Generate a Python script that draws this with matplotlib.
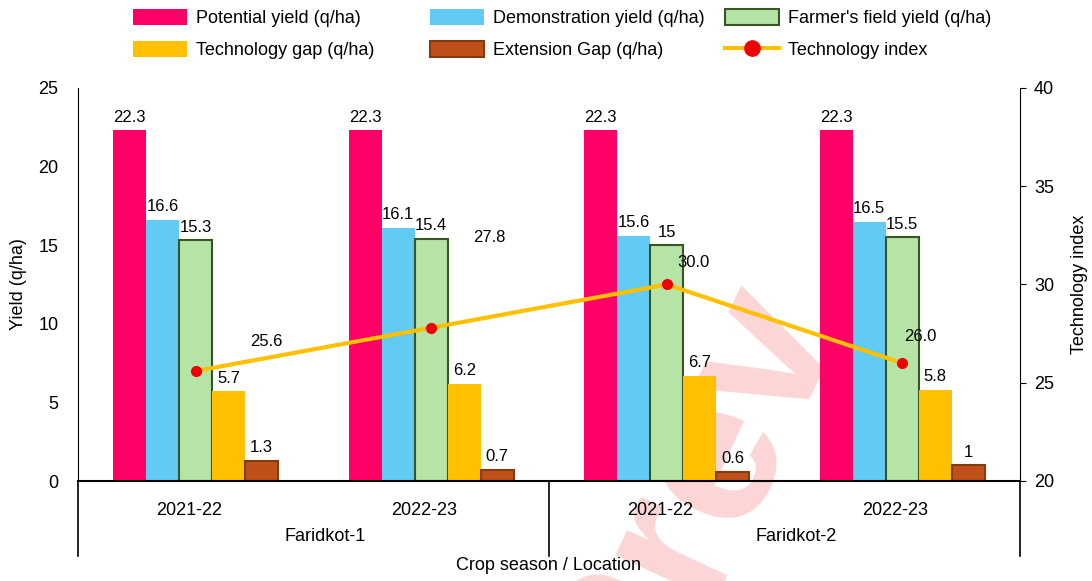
import matplotlib
matplotlib.use("Agg")
import numpy as np
import matplotlib.pyplot as plt
from matplotlib.patches import Patch
from matplotlib.lines import Line2D

plt.rcParams["font.family"] = ["Liberation Sans", "DejaVu Sans"]
plt.rcParams["font.size"] = 13

# data
seasons = ["2021-22", "2022-23", "2021-22", "2022-23"]
locations = ["Faridkot-1", "Faridkot-2"]
potential = [22.3, 22.3, 22.3, 22.3]
demonstration = [16.6, 16.1, 15.6, 16.5]
farmers = [15.3, 15.4, 15, 15.5]
tech_gap = [5.7, 6.2, 6.7, 5.8]
ext_gap = [1.3, 0.7, 0.6, 1]
tech_index = [25.6, 27.8, 30.0, 26.0]
# offsets (points) of technology index labels
ti_offsets = [(51, 21), (42, 65), (19, 16), (13, 19)]

series = [
    ("Potential yield (q/ha)", potential, "#ff0066", "#ff0066", 0),
    ("Demonstration yield (q/ha)", demonstration, "#61cbf3", "#61cbf3", 0),
    ("Farmer's field yield (q/ha)", farmers, "#b5e4a6", "#375623", 1.5),
    ("Technology gap (q/ha)", tech_gap, "#ffc000", "#ffc000", 0),
    ("Extension Gap (q/ha)", ext_gap, "#c0501a", "#843c0c", 1.5),
]

W, H = 1092, 581
fig = plt.figure(figsize=(W / 100, H / 100), dpi=100)
ax = fig.add_axes([78 / W, 1 - 481 / H, (1020 - 78) / W, (481 - 88) / H])
ax2 = ax.twinx()
ax.patch.set_alpha(0)
ax2.patch.set_alpha(0)

x = np.arange(len(seasons))
bw = 0.14
for i, (name, vals, fc, ec, lw) in enumerate(series):
    pos = x + (i - 2) * bw
    ax.bar(pos, vals, bw, color=fc, edgecolor=ec, linewidth=lw, zorder=2)
    for px, v in zip(pos, vals):
        ax.annotate(str(v), (px, v), xytext=(0, 4), textcoords="offset points",
                    ha="center", va="bottom", fontsize=12)

ax.set_xlim(-0.5, 3.5)
ax.set_ylim(0, 25)
ax.set_yticks(range(0, 26, 5))
ax.tick_params(axis="y", length=0, pad=14)
ax.set_xticks([])
ax.spines["top"].set_visible(False)
ax.spines["right"].set_visible(False)
ax.spines["bottom"].set_linewidth(1.5)
ax.set_ylabel("Yield (q/ha)", labelpad=8)

ax2.plot(x, tech_index, color="#ffc000", lw=3, marker="o", markersize=7,
         markerfacecolor="#ee0000", markeredgecolor="#ee0000", zorder=3)
for xi, v, off in zip(x, tech_index, ti_offsets):
    ax2.annotate(f"{v:.1f}", (xi, v), xytext=off, textcoords="offset points",
                 ha="center", va="center", fontsize=12)
ax2.set_ylim(20, 40)
ax2.set_yticks(range(20, 41, 5))
ax2.tick_params(axis="y", length=4, direction="out", pad=6)
for s in ["top", "left", "bottom"]:
    ax2.spines[s].set_visible(False)
ax2.set_ylabel("Technology index", labelpad=12)

# category axis text and separators
tr = ax.get_xaxis_transform()
for xi, s in zip(x, seasons):
    ax.text(xi - 0.03, -0.074, s, transform=tr, ha="center", va="center", fontsize=13)
for j, loc in enumerate(locations):
    ax.text(2 * j + 0.55, -0.142, loc, transform=tr, ha="center", va="center", fontsize=13)
for xs in [-0.5, 1.5, 3.5]:
    ax.plot([xs, xs], [0, -0.19], transform=tr, color="black", lw=1.2, clip_on=False)
ax.text(1.5, -0.216, "Crop season / Location", transform=tr, ha="center", va="center", fontsize=13)

# legends
handles = [Patch(facecolor=fc, edgecolor=ec, linewidth=lw) for _, _, fc, ec, lw in series]
line_h = Line2D([], [], color="#ffc000", lw=3, marker="o", markersize=11,
                markerfacecolor="#ee0000", markeredgecolor="#ee0000")
handles.append(line_h)
labels = [s[0] for s in series] + ["Technology index"]
cols = [(0, 3), (1, 4), (2, 5)]
for xpx, (a, b) in zip([133, 430, 725], cols):
    fig.legend([handles[a], handles[b]], [labels[a], labels[b]], loc="upper left",
               bbox_to_anchor=(xpx / W, 1 - 9 / H), frameon=False, borderpad=0,
               borderaxespad=0, handlelength=3.0, handleheight=1.0,
               handletextpad=0.5, labelspacing=0.75, fontsize=13)

# watermark
fig.text(690 / W, 1 - 500 / H, "Prev", rotation=65, rotation_mode="anchor",
         ha="center", va="center", fontsize=150, fontweight="bold",
         color="#fcd6d6", zorder=-1, family="Liberation Sans")

fig.savefig("out.png", dpi=100)
